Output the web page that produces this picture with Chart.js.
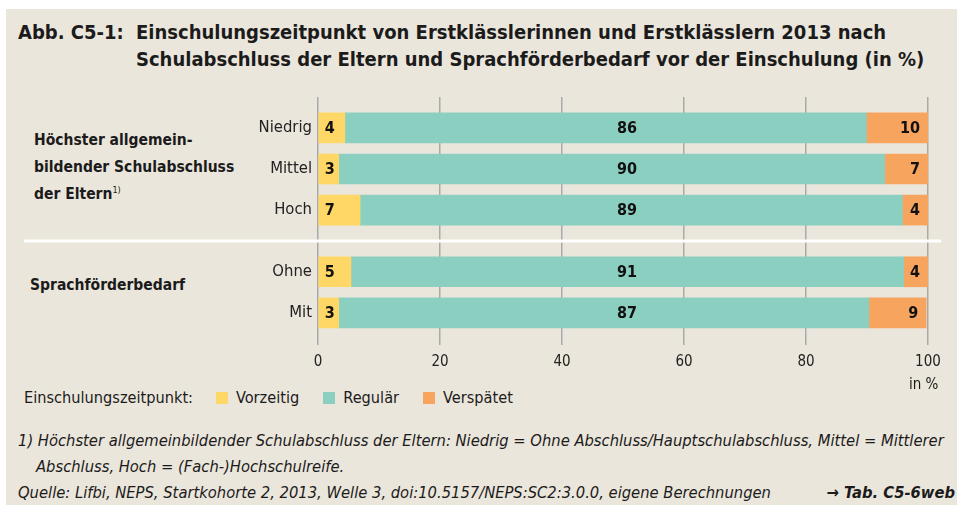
<!DOCTYPE html>
<html>
<head>
<meta charset="utf-8">
<script src="https://cdn.jsdelivr.net/npm/chart.js@4"></script>
<style>
  body { margin: 0; width: 957px; height: 505px; background: #fff; position: relative; overflow: hidden;
         font-family: "DejaVu Sans Condensed", "DejaVu Sans", sans-serif; color: #1b1b1b; }
  #frame { position: absolute; left: 6px; top: 9px; width: 951px; height: 496px; background: #ebe6dc; }
  .abs { position: absolute; white-space: nowrap; }
  .title { font-weight: bold; font-size: 20px; line-height: 27px; }
  .group { font-weight: bold; font-size: 15.5px; line-height: 27px; }
  .note { font-style: italic; font-size: 16.4px; line-height: 26px; }
  #chartBox { position: absolute; left: 0; top: 0; width: 957px; height: 380px; }
  #legend { font-size: 16.2px; line-height: 20px; }
  #legend span.sw { display: inline-block; width: 12px; height: 12px; margin: 0 8px 0 0; vertical-align: -1px; }
  #legend span.it { margin-right: 24px; }
</style>
</head>
<body>
<div id="frame"></div>

<div class="abs title" style="left:18px; top:19px;">Abb. C5-1:</div>
<div class="abs title" style="left:136px; top:19px;">Einschulungszeitpunkt von Erstklässlerinnen und Erstklässlern 2013 nach<br>Schulabschluss der Eltern und Sprachförderbedarf vor der Einschulung (in %)</div>

<div class="abs group" style="left:34px; top:127px;">Höchster allgemein-<br>bildender Schulabschluss<br>der Eltern<sup style="font-size:9px; font-weight:normal; vertical-align:6px; line-height:0;">1)</sup></div>
<div class="abs group" style="left:30px; top:272px;">Sprachförderbedarf</div>

<div id="chartBox"><canvas id="chart"></canvas></div>

<div class="abs" style="left:909px; top:375px; font-size:15px;">in %</div>
<div class="abs" id="legend" style="left:24px; top:388px;"></div>

<div class="abs note" style="left:18px; top:428px;">1) Höchster allgemeinbildender Schulabschluss der Eltern: Niedrig = Ohne Abschluss/Hauptschulabschluss, Mittel = Mittlerer</div>
<div class="abs note" style="left:36px; top:454px;">Abschluss, Hoch = (Fach-)Hochschulreife.</div>
<div class="abs note" style="left:18px; top:480px;">Quelle: Lifbi, NEPS, Startkohorte 2, 2013, Welle 3, doi:10.5157/NEPS:SC2:3.0.0, eigene Berechnungen</div>
<div class="abs note" style="right:2px; top:480px; font-weight:bold;">→ Tab. C5-6web</div>

<script>
// rows, top to bottom (two groups, gap between Hoch and Ohne)
const rowLabels = ["Niedrig", "Mittel", "Hoch", "Ohne", "Mit"];
const rowPos = [0, 1, 2, 3.5, 4.5];

const seriesNames = ["Vorzeitig", "Regulär", "Verspätet"];
const seriesColors = ["#ffd766", "#8bcfc1", "#f7a45f"];

// shares in % (labels show rounded values)
const vorzeitig = [4.4, 3.4, 6.9, 5.4, 3.4];
const regulaer  = [85.5, 89.5, 88.9, 90.6, 86.9];
const verspaetet = [10.1, 7.1, 4.2, 4.0, 9.4];

const xTicks = [0, 20, 40, 60, 80, 100];

const seriesValues = [vorzeitig, regulaer, verspaetet];

// legend
const legend = document.getElementById("legend");
let html = '<span class="it" style="margin-right:23px">Einschulungszeitpunkt:</span>';
seriesNames.forEach((n, i) => {
  html += '<span class="sw" style="background:' + seriesColors[i] + '"></span><span class="it">' + n + '</span>';
});
legend.innerHTML = html;

// white line between the two groups
const separator = {
  id: "separator",
  beforeDatasetsDraw(chart) {
    const y = chart.scales.y.getPixelForValue((rowPos[2] + rowPos[3]) / 2);
    const ctx = chart.ctx;
    ctx.save();
    ctx.strokeStyle = "#ffffff";
    ctx.lineWidth = 3;
    ctx.beginPath();
    ctx.moveTo(24, y);
    ctx.lineTo(941, y);
    ctx.stroke();
    ctx.restore();
  }
};

// value labels inside the bars
const barLabels = {
  id: "barLabels",
  afterDatasetsDraw(chart) {
    const ctx = chart.ctx;
    const area = chart.chartArea;
    ctx.save();
    ctx.font = "bold 16px 'DejaVu Sans Condensed', 'DejaVu Sans', sans-serif";
    ctx.fillStyle = "#111";
    ctx.textBaseline = "middle";
    chart.data.datasets.forEach((ds, i) => {
      chart.getDatasetMeta(i).data.forEach((bar, j) => {
        const txt = String(Math.round(ds.data[j].x));
        if (i === 0) {
          ctx.textAlign = "left";
          ctx.fillText(txt, bar.base + 6, bar.y + 1);
        } else if (i === 1) {
          ctx.textAlign = "center";
          ctx.fillText(txt, (area.left + area.right) / 2 + 4, bar.y + 1);
        } else {
          ctx.textAlign = "right";
          ctx.fillText(txt, bar.x - 8, bar.y + 1);
        }
      });
    });
    ctx.restore();
  }
};

new Chart(document.getElementById("chart"), {
  type: "bar",
  data: {
    datasets: seriesNames.map((name, i) => ({
      label: name,
      data: seriesValues[i].map((v, j) => ({ x: v, y: rowPos[j] })),
      backgroundColor: seriesColors[i],
      borderWidth: 0,
      barThickness: 30
    }))
  },
  options: {
    indexAxis: "y",
    responsive: true,
    maintainAspectRatio: false,
    animation: false,
    layout: { padding: { top: 97, right: 29, left: 0, bottom: 0 } },
    plugins: { legend: { display: false }, tooltip: { enabled: false } },
    scales: {
      x: {
        type: "linear",
        stacked: true,
        min: 0,
        max: 100,
        afterBuildTicks: (s) => { s.ticks = xTicks.map(v => ({ value: v })); },
        afterFit: (s) => { s.height = 35; },
        ticks: { color: "#222", font: { size: 15, family: "'DejaVu Sans Condensed', 'DejaVu Sans', sans-serif" }, padding: 8 },
        grid: { color: "#a9a9a9", lineWidth: 1.5, drawTicks: false },
        border: { display: false }
      },
      y: {
        type: "linear",
        stacked: true,
        reverse: true,
        offset: false,
        min: -0.75,
        max: 5.28,
        afterBuildTicks: (s) => { s.ticks = rowPos.map(v => ({ value: v })); },
        afterFit: (s) => { s.width = 318; },
        ticks: {
          callback: (v, idx) => rowLabels[idx],
          color: "#222",
          font: { size: 16.5, family: "'DejaVu Sans Condensed', 'DejaVu Sans', sans-serif" },
          padding: 6
        },
        grid: { display: false, drawTicks: false },
        border: { display: false }
      }
    }
  },
  plugins: [separator, barLabels]
});
</script>
</body>
</html>
